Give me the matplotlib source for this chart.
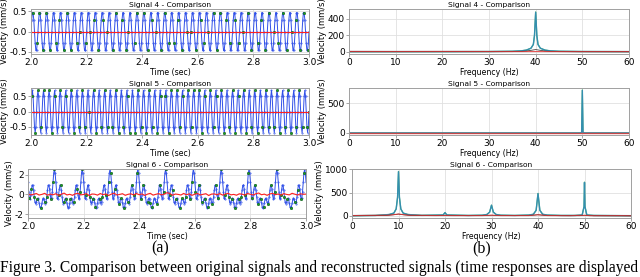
import numpy as np
import matplotlib
matplotlib.use('Agg')
import matplotlib.pyplot as plt

# sampling: 400 samples per second, window 2.0 - 3.0 s
fs = 400
t_start = 2.0
n_samples = 401

# one period of each time signal (mm/s)
period4 = [0.0, 0.29, 0.47, 0.47, 0.29, 0.0, -0.29, -0.47, -0.47, -0.29]
period5 = [0.0, 0.5, 0.7, 0.5, 0.0, -0.5, -0.7, -0.5]
period6 = [2.56, 2.20, 1.30, 0.28, -0.40, -0.49, -0.07, 0.55, 0.96, 0.92,
           0.43, -0.24, -0.77, -0.94, -0.79, -0.51, -0.37, -0.51, -0.88, -1.26,
           -1.42, -1.26, -0.88, -0.51, -0.37, -0.51, -0.79, -0.94, -0.77, -0.24,
           0.43, 0.92, 0.96, 0.55, -0.07, -0.49, -0.40, 0.28, 1.30, 2.20]
shift6 = 2  # signal 6 main peak sits near 2.095 s

# sample indices of the compressed measurements (green dots)
dots4 = [3, 9, 12, 17, 22, 28, 36, 41, 47, 52, 58, 66, 70, 79, 85, 91, 97, 104, 110,
         118, 122, 131, 137, 140, 149, 153, 162, 168, 174, 180, 187, 193, 199, 206,
         211, 217, 225, 230, 238, 244, 249, 255, 263, 268, 272, 281, 286, 294, 299,
         305, 312, 317, 326, 331, 337, 343, 350, 356, 362, 368, 375, 381, 387, 393, 398]
dots5 = [1, 6, 10, 15, 18, 26, 30, 35, 42, 45, 51, 58, 62, 69, 74, 77, 84, 90, 94,
         101, 106, 111, 117, 122, 126, 133, 139, 142, 150, 154, 159, 166, 170, 175,
         182, 187, 193, 198, 202, 210, 215, 219, 226, 231, 234, 242, 246, 251, 258,
         263, 267, 274, 278, 285, 290, 294, 299, 306, 310, 317, 322, 326, 333, 338,
         343, 349, 354, 358, 365, 370, 374, 381, 386, 391, 397, 400]
dots6 = [2, 5, 9, 13, 18, 24, 27, 33, 36, 38, 44, 47, 52, 55, 61, 66, 71, 75, 78,
         84, 89, 93, 97, 103, 107, 112, 116, 119, 125, 131, 134, 138, 144, 149, 152,
         157, 163, 166, 172, 176, 179, 185, 190, 195, 198, 204, 208, 213, 218, 222,
         227, 233, 236, 241, 246, 250, 255, 259, 265, 270, 274, 278, 284, 289, 293,
         298, 303, 307, 312, 317, 322, 326, 331, 335, 339, 345, 350, 355, 358, 364,
         369, 373, 378, 384, 388, 393, 397]

# reconstruction error of signal 6, every 0.01 s
err6 = [0.05, -0.04, 0.02, 0.10, -0.06, 0.01, 0.12, -0.08, 0.04, -0.03,
        0.08, -0.10, 0.03, 0.14, -0.05, 0.02, -0.09, 0.07, 0.11, -0.04,
        0.00, 0.09, -0.12, 0.05, 0.03, -0.07, 0.10, -0.02, 0.06, -0.11,
        0.04, 0.13, -0.06, 0.01, 0.08, -0.09, 0.02, 0.07, -0.05, 0.10,
        -0.03, 0.06, -0.10, 0.04, 0.12, -0.07, 0.02, 0.09, -0.04, 0.03,
        0.18, 0.10, -0.08, 0.05, 0.01, -0.06, 0.11, -0.03, 0.07, -0.09,
        0.03, 0.10, -0.05, 0.02, 0.08, -0.11, 0.04, 0.06, -0.02, 0.09,
        -0.07, 0.05, 0.12, -0.04, 0.01, -0.08, 0.07, 0.03, -0.06, 0.10,
        0.02, -0.05, 0.08, 0.15, -0.03, 0.04, -0.09, 0.06, 0.11, -0.02,
        0.05, -0.07, 0.09, 0.01, -0.04, 0.12, 0.03, -0.06, 0.07, 0.02, 0.04]

# spectra: frequency (Hz) and magnitude for original, residual (black) and error (red)
spec4_f = [0, 20, 30, 35, 37, 38, 39, 39.5, 39.75, 40, 40.25, 40.5, 41, 42, 43, 45, 50, 60]
spec4_h = [4, 4, 5, 8, 14, 22, 45, 90, 200, 480, 200, 90, 45, 22, 14, 8, 5, 4]
blk4_f = [0, 35, 38, 39, 40, 41, 42, 45, 60]
blk4_h = [2, 3, 10, 20, 28, 20, 10, 3, 2]
red4_f = [0, 10, 20, 30, 40, 50, 60]
red4_h = [6, 5, 6, 5, 5, 4, 4]

spec5_f = [0, 49.5, 49.85, 50, 50.15, 50.5, 60]
spec5_h = [0, 0, 5, 720, 5, 0, 0]
red5_f = [0, 60]
red5_h = [0, 0]

spec6_f = [0, 5, 8, 9, 9.5, 9.8, 10, 10.2, 10.5, 11, 12, 15, 19.6, 20, 20.4, 25,
           28, 29, 29.6, 30, 30.4, 31, 32, 35, 38, 39, 39.6, 40, 40.4, 41, 42, 45,
           48, 49.5, 49.9, 50, 50.1, 50.5, 52, 55, 60]
spec6_h = [5, 10, 30, 60, 150, 400, 950, 400, 150, 60, 30, 12, 20, 70, 20, 10,
           15, 30, 80, 230, 80, 30, 15, 10, 18, 35, 120, 480, 120, 35, 18, 10,
           10, 20, 200, 720, 200, 20, 10, 8, 5]
blk6_f = [0, 7, 9, 10, 11, 13, 20, 28, 30, 32, 38, 40, 42, 49, 50, 51, 60]
blk6_h = [3, 8, 25, 40, 25, 8, 5, 5, 15, 5, 6, 25, 6, 4, 15, 4, 2]
red6_f = [0, 8, 10, 12, 18, 20, 22, 28, 30, 32, 38, 40, 42, 47, 48, 50, 52, 58, 60]
red6_h = [8, 15, 40, 15, 8, 10, 8, 8, 15, 8, 8, 25, 8, 5, 10, 12, 5, 6, 3]

titles = ['Signal 4 - Comparison', 'Signal 5 - Comparison', 'Signal 6 - Comparison']
caption = ('Figure 3. Comparison between original signals and reconstructed signals '
           '(time responses are displayed')

plt.rcParams['font.family'] = 'DejaVu Sans'
plt.rcParams['font.size'] = 6
plt.rcParams['axes.unicode_minus'] = False


def box(x0, y0, x1, y1):
    # pixel box -> figure fraction
    return [x0 / 640., 1 - y1 / 277., (x1 - x0) / 640., (y1 - y0) / 277.]


def style(ax):
    ax.grid(True, color='#e0e0e0', linewidth=0.6)
    ax.set_axisbelow(True)
    for s in ax.spines.values():
        s.set_color('#a0a0a0')
        s.set_linewidth(0.7)
    ax.tick_params(length=2, width=0.5, color='#808080', pad=1, labelsize=6.5)


def tiled(period, shift=0):
    n = np.arange(n_samples)
    return np.array(period)[(n + shift) % len(period)]


fig = plt.figure(figsize=(6.4, 2.77), dpi=100)

left_boxes = [box(31, 9, 309, 54), box(31, 88, 309, 135), box(28, 169, 306, 218)]
right_boxes = [box(349, 9, 629, 54), box(349, 88, 629, 135), box(352, 169, 631, 218)]

t = t_start + np.arange(n_samples) / float(fs)
sig = [tiled(period4), tiled(period5), tiled(period6, shift6)]
dots = [dots4, dots5, dots6]
t_err = t_start + np.arange(len(err6)) * 0.01
errs = [(t[[0, -1]], [0, 0]), (t[[0, -1]], [0, 0]), (t_err, err6)]
ylims = [(-0.56, 0.56), (-0.78, 0.78), (-2.4, 2.6)]
yticks = [[-0.5, 0.0, 0.5], [-0.5, 0.0, 0.5], [-2, 0, 2]]

for i in range(3):
    ax = fig.add_axes(left_boxes[i])
    style(ax)
    ax.plot(t, sig[i], color='#3050e8', linewidth=0.7, marker='.', markersize=0.8)
    ax.plot(t[dots[i]], sig[i][dots[i]], 'o', color='#1aa51a', markeredgecolor='#0a4a0a',
            markeredgewidth=0.3, markersize=1.8, linestyle='none')
    ax.plot(errs[i][0], errs[i][1], color='#ff2020', linewidth=0.8)
    ax.set_xlim(2.0, 3.0)
    ax.set_ylim(ylims[i])
    ax.set_yticks(yticks[i])
    if i < 2:
        ax.set_yticklabels(['%.1f' % v for v in yticks[i]])
    ax.set_xticks([2.0, 2.2, 2.4, 2.6, 2.8, 3.0])
    ax.set_xticklabels(['2.0', '2.2', '2.4', '2.6', '2.8', '3.0'])
    ax.set_title(titles[i], fontsize=5.4, pad=1.5)
    ax.set_xlabel('Time (sec)', fontsize=5.6, labelpad=0.5)
    ax.set_ylabel('Velocity (mm/s)', fontsize=6, labelpad=0.5)

spec = [(spec4_f, spec4_h), (spec5_f, spec5_h), (spec6_f, spec6_h)]
blk = [(blk4_f, blk4_h), None, (blk6_f, blk6_h)]
red = [(red4_f, red4_h), (red5_f, red5_h), (red6_f, red6_h)]
rylims = [(-25, 520), (-35, 760), (-45, 1010)]
ryticks = [[0, 200, 400], [0, 500], [0, 500, 1000]]

for i in range(3):
    ax = fig.add_axes(right_boxes[i])
    style(ax)
    ax.plot(spec[i][0], np.array(spec[i][1]) * 1.01, color='#33aa44', linewidth=0.9, alpha=0.8)
    ax.plot(spec[i][0], spec[i][1], color='#2f8ab8', linewidth=1.0, alpha=0.9)
    if blk[i] is not None:
        ax.plot(blk[i][0], blk[i][1], color='#202020', linewidth=0.5)
    ax.plot(red[i][0], red[i][1], color='#e03030', linewidth=1.0 if i == 1 else 0.8, alpha=0.8)
    ax.set_xlim(0, 60)
    ax.set_ylim(rylims[i])
    ax.set_yticks(ryticks[i])
    ax.set_xticks([0, 10, 20, 30, 40, 50, 60])
    ax.set_title(titles[i], fontsize=5.4, pad=1.5)
    ax.set_xlabel('Frequency (Hz)', fontsize=5.6, labelpad=0.5)
    ax.set_ylabel('Velocity (mm/s)', fontsize=6, labelpad=0.5)

fig.text(160 / 640., 1 - 248 / 277., '(a)', family='Liberation Serif', fontsize=11.5,
         ha='center', va='center')
fig.text(482 / 640., 1 - 248 / 277., '(b)', family='Liberation Serif', fontsize=11.5,
         ha='center', va='center')
fig.text(0.0, 1 - 268 / 277., caption, family='Liberation Serif', fontsize=11.2,
         ha='left', va='center')

fig.savefig('out.png', dpi=100)
